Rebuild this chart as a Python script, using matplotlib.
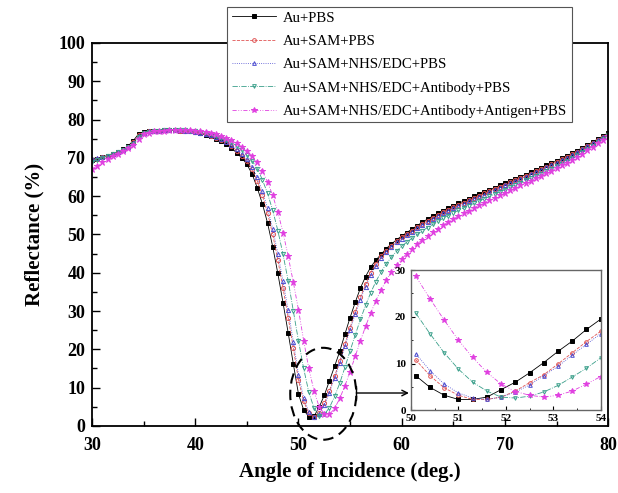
import numpy as np
import matplotlib
matplotlib.use("Agg")
import matplotlib.pyplot as plt
from matplotlib.patches import Ellipse
from matplotlib.ticker import MultipleLocator

plt.rcParams['font.family'] = ['Liberation Serif', 'DejaVu Serif']
plt.rcParams['mathtext.fontset'] = 'stix'

# angle grid (deg), 30 -> 80 every 0.5
angle = np.linspace(30, 80, 101)

labels = ["Au+PBS",
          "Au+SAM+PBS",
          "Au+SAM+NHS/EDC+PBS",
          "Au+SAM+NHS/EDC+Antibody+PBS",
          "Au+SAM+NHS/EDC+Antibody+Antigen+PBS"]

au_pbs = [69.5, 69.8, 70.2, 70.6, 71.1, 71.6, 72.2, 73.1, 74.5, 76.2,
          76.7, 76.9, 77.0, 77.1, 77.2, 77.2, 77.2, 77.1, 77.0, 76.9,
          76.7, 76.4, 76.0, 75.6, 75.0, 74.4, 73.6, 72.6, 71.3, 70.0,
          68.3, 65.8, 62.2, 58.0, 53.0, 46.8, 39.8, 32.2, 24.3, 16.2,
          8.3, 4.2, 2.4, 2.5, 4.9, 8.0, 11.8, 15.6, 19.5, 24.0,
          28.3, 32.3, 36.0, 39.0, 41.5, 43.3, 44.8, 46.3, 47.5, 48.6,
          49.6, 50.5, 51.4, 52.3, 53.2, 54.0, 54.8, 55.5, 56.2, 56.9,
          57.5, 58.1, 58.7, 59.3, 59.9, 60.5, 61.1, 61.6, 62.2, 62.8,
          63.3, 63.9, 64.5, 65.0, 65.6, 66.2, 66.8, 67.4, 68.0, 68.6,
          69.2, 69.9, 70.5, 71.2, 71.9, 72.6, 73.4, 74.1, 74.9, 75.7,
          76.5]

sam = [69.3, 69.7, 70.1, 70.5, 71.0, 71.5, 72.1, 72.9, 74.0, 75.9,
       76.6, 76.9, 77.0, 77.1, 77.2, 77.2, 77.2, 77.1, 77.0, 76.9,
       76.8, 76.5, 76.2, 75.8, 75.3, 74.7, 74.0, 73.1, 71.9, 70.6,
       69.1, 67.0, 64.0, 60.2, 55.6, 50.0, 43.3, 36.0, 28.3, 20.3,
       12.0, 6.4, 3.3, 2.3, 3.4, 5.9, 9.2, 13.0, 16.9, 21.3,
       25.7, 29.8, 33.6, 37.0, 40.0, 42.4, 44.3, 45.8, 47.1, 48.2,
       49.2, 50.1, 51.0, 51.9, 52.8, 53.6, 54.4, 55.1, 55.8, 56.5,
       57.1, 57.7, 58.3, 58.9, 59.5, 60.1, 60.7, 61.3, 61.9, 62.5,
       63.0, 63.6, 64.2, 64.7, 65.3, 65.9, 66.5, 67.1, 67.7, 68.3,
       68.9, 69.6, 70.2, 70.9, 71.6, 72.4, 73.1, 73.9, 74.7, 75.5,
       76.3]

nhs = [69.6, 69.9, 70.2, 70.6, 71.1, 71.6, 72.1, 72.8, 73.8, 75.7,
       76.5, 76.9, 77.0, 77.1, 77.2, 77.2, 77.2, 77.2, 77.1, 77.0,
       76.8, 76.6, 76.3, 75.9, 75.4, 74.9, 74.2, 73.4, 72.3, 71.0,
       69.6, 67.6, 64.9, 61.3, 56.9, 51.5, 45.0, 37.8, 30.2, 22.0,
       13.4, 7.4, 3.7, 2.3, 3.1, 5.4, 8.7, 12.6, 16.4, 20.8,
       25.1, 29.2, 33.0, 36.4, 39.4, 41.8, 43.8, 45.4, 46.8, 47.9,
       48.9, 49.8, 50.7, 51.6, 52.4, 53.2, 54.0, 54.8, 55.5, 56.2,
       56.8, 57.4, 58.0, 58.6, 59.2, 59.8, 60.4, 61.0, 61.6, 62.2,
       62.8, 63.3, 63.9, 64.5, 65.1, 65.7, 66.3, 66.9, 67.5, 68.1,
       68.7, 69.4, 70.0, 70.7, 71.4, 72.2, 73.0, 73.8, 74.6, 75.4,
       76.2]

antibody = [69.0, 69.4, 69.9, 70.4, 70.9, 71.4, 72.0, 72.7, 73.6, 75.4,
            76.4, 76.8, 77.0, 77.1, 77.2, 77.2, 77.3, 77.2, 77.2, 77.1,
            77.0, 76.8, 76.5, 76.2, 75.8, 75.3, 74.7, 74.0, 73.1, 72.0,
            70.7, 69.2, 67.2, 64.3, 60.7, 56.3, 51.0, 44.8, 37.9, 30.0,
            22.2, 15.0, 8.8, 4.7, 2.7, 3.0, 4.8, 7.7, 11.2, 15.3,
            19.6, 23.8, 27.8, 31.5, 34.8, 37.7, 40.2, 42.3, 44.1, 45.6,
            46.9, 48.0, 49.0, 50.0, 50.9, 51.8, 52.6, 53.4, 54.2, 54.9,
            55.6, 56.3, 56.9, 57.5, 58.1, 58.7, 59.3, 59.9, 60.5, 61.1,
            61.7, 62.3, 62.9, 63.5, 64.1, 64.7, 65.3, 65.9, 66.5, 67.2,
            67.8, 68.5, 69.2, 69.9, 70.7, 71.5, 72.3, 73.1, 74.0, 74.9,
            75.9]

antigen = [67.0, 67.9, 68.8, 69.6, 70.4, 71.1, 71.8, 72.5, 73.4, 75.0,
           76.1, 76.6, 76.9, 77.0, 77.1, 77.2, 77.2, 77.3, 77.3, 77.2,
           77.1, 77.0, 76.8, 76.5, 76.1, 75.7, 75.2, 74.6, 73.8, 72.9,
           71.8, 70.5, 68.8, 66.5, 63.7, 60.2, 55.8, 50.5, 44.3, 37.5,
           30.3, 22.3, 15.0, 9.2, 5.0, 3.2, 3.0, 4.6, 7.2, 10.5,
           14.2, 18.2, 22.2, 26.0, 29.5, 32.7, 35.5, 38.0, 40.2, 42.0,
           43.6, 45.0, 46.3, 47.5, 48.6, 49.6, 50.6, 51.5, 52.4, 53.2,
           54.0, 54.8, 55.5, 56.2, 56.9, 57.6, 58.3, 58.9, 59.6, 60.2,
           60.9, 61.5, 62.1, 62.8, 63.4, 64.0, 64.7, 65.3, 66.0, 66.6,
           67.3, 68.0, 68.7, 69.5, 70.3, 71.1, 72.0, 72.9, 73.8, 74.7,
           75.6]

# inset (zoom on the resonance dip)
inset_angle = [50.1, 50.4, 50.7, 51.0, 51.3, 51.6, 51.9, 52.2, 52.5, 52.8, 53.1, 53.4, 53.7, 54.0]
in_au_pbs = [7.4, 4.9, 3.2, 2.3, 2.3, 2.8, 4.4, 6.0, 8.0, 10.2, 12.6, 14.8, 17.3, 19.5]
in_sam = [10.8, 7.4, 4.8, 3.2, 2.3, 2.3, 2.8, 4.1, 5.9, 7.6, 9.9, 12.3, 14.7, 16.9]
in_nhs = [12.1, 8.5, 5.6, 3.7, 2.6, 2.3, 2.8, 3.9, 5.4, 7.4, 9.4, 11.8, 14.1, 16.4]
in_antibody = [20.8, 16.4, 12.3, 8.8, 6.0, 4.1, 2.8, 2.6, 3.0, 3.9, 5.3, 7.1, 9.0, 11.2]
in_antigen = [28.7, 23.9, 19.3, 15.0, 11.3, 8.1, 5.6, 4.0, 3.2, 2.8, 3.2, 4.1, 5.6, 7.2]

main_series = [au_pbs, sam, nhs, antibody, antigen]
inset_series = [in_au_pbs, in_sam, in_nhs, in_antibody, in_antigen]

# style of each curve: colour, line style, marker, filled?
styles = [("black", "-", "s", True),
          ("#e05555", "--", "o", False),
          ("#4a4ad0", ":", "^", False),
          ("#3a9f8a", "-.", "v", False),
          ("#e040e0", (0, (5, 2, 1, 2, 1, 2)), "*", True)]

fig = plt.figure(figsize=(6.18, 4.93), dpi=100)
ax = fig.add_axes([0.149, 0.136, 0.835, 0.777])

for y, lab, (c, ls, m, filled) in zip(main_series, labels, styles):
    ax.plot(angle, y, color=c, linestyle=ls, linewidth=0.6, marker=m,
            markersize=3 if m != "*" else 4.5, markeredgewidth=0.7,
            markerfacecolor=c if filled else "none", markeredgecolor=c,
            label=lab)

ax.set_xlim(30, 80)
ax.set_ylim(0, 100)
ax.xaxis.set_major_locator(MultipleLocator(10))
ax.xaxis.set_minor_locator(MultipleLocator(5))
ax.yaxis.set_major_locator(MultipleLocator(10))
ax.yaxis.set_minor_locator(MultipleLocator(5))
ax.tick_params(which="both", direction="in", top=False, right=False,
               width=1.0, labelsize=13)
ax.tick_params(which="major", length=6)
ax.tick_params(which="minor", length=3.5)
ax.tick_params(axis="x", pad=8)
ax.tick_params(axis="y", pad=5)
for t in ax.get_xticklabels() + ax.get_yticklabels():
    t.set_fontweight("bold")
for s in ax.spines.values():
    s.set_linewidth(1.3)
ax.set_xlabel("Angle of Incidence (deg.)", fontsize=15, fontweight="bold", labelpad=6)
ax.set_ylabel("Reflectance (%)", fontsize=15, fontweight="bold", labelpad=10)

leg = ax.legend(loc="upper left", bbox_to_anchor=(0.262, 1.094), borderaxespad=0,
                fontsize=10.6, fancybox=False, framealpha=1, edgecolor="#555555",
                handlelength=3.0, labelspacing=0.68, borderpad=0.3, handletextpad=0.5,
                markerscale=0.9)
leg.get_frame().set_linewidth(0.8)
leg.set_zorder(10)

# dashed ellipse around the dip and arrow to the inset
ell = Ellipse((52.4, 8.4), 6.4, 24, fill=False, linestyle=(0, (5, 3)),
              linewidth=1.5, edgecolor="black", clip_on=False, zorder=6)
ax.add_patch(ell)
ax.annotate("", xy=(60.7, 8.6), xytext=(55.6, 8.6),
            arrowprops=dict(arrowstyle="]->, widthA=0.5, lengthA=0", color="black", lw=1.0,
                            shrinkA=0, shrinkB=0, mutation_scale=10))

ins = fig.add_axes([0.665, 0.168, 0.307, 0.284])
for y, (c, ls, m, filled) in zip(inset_series, styles):
    ins.plot(inset_angle, y, color=c, linestyle=ls, linewidth=0.6, marker=m,
             markersize=2.6 if m != "*" else 4, markeredgewidth=0.7,
             markerfacecolor=c if filled else "none", markeredgecolor=c)
ins.set_xlim(50, 54)
ins.set_ylim(0, 30)
ins.xaxis.set_major_locator(MultipleLocator(1))
ins.xaxis.set_minor_locator(MultipleLocator(0.5))
ins.yaxis.set_major_locator(MultipleLocator(10))
ins.yaxis.set_minor_locator(MultipleLocator(5))
ins.tick_params(which="both", direction="in", labelsize=8)
ins.tick_params(axis="x", pad=3)
ins.tick_params(axis="y", pad=3.5)
ins.tick_params(which="major", length=3)
ins.tick_params(which="minor", length=1.5)
for t in ins.get_xticklabels() + ins.get_yticklabels():
    t.set_fontweight("bold")
for s in ins.spines.values():
    s.set_linewidth(1.0)
    s.set_edgecolor("#666666")

fig.savefig("out.png", dpi=100)
